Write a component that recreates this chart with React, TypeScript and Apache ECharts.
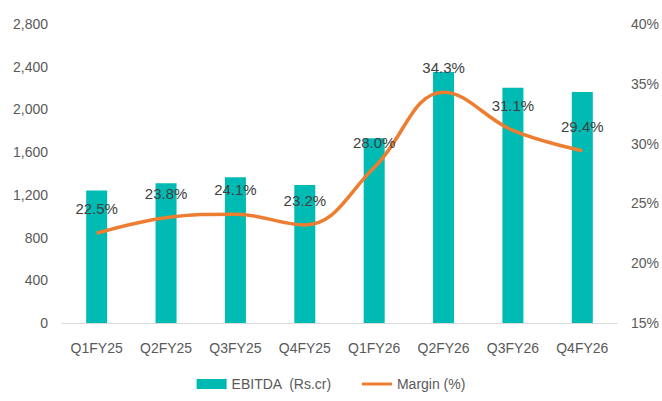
import React, { useEffect, useRef } from "react";
import * as echarts from "echarts";

const categories = ["Q1FY25", "Q2FY25", "Q3FY25", "Q4FY25", "Q1FY26", "Q2FY26", "Q3FY26", "Q4FY26"];
const ebitda = [1240, 1308, 1364, 1292, 1730, 2350, 2204, 2163];
const margin = [22.5, 23.8, 24.1, 23.2, 28.0, 34.3, 31.1, 29.4];

const FONT = "'Liberation Sans Narrow', 'Arial Narrow', 'Liberation Sans', sans-serif";

export default function App() {
  const ref = useRef<HTMLDivElement>(null);
  useEffect(() => {
    if (!ref.current) return;
    const chart = echarts.init(ref.current, undefined, { renderer: "svg" });
    chart.setOption({
      animation: false,
      textStyle: { fontFamily: FONT },
      grid: { left: 62, right: 44, top: 24, bottom: 78 },
      legend: {
        bottom: 5,
        left: "center",
        itemGap: 30,
        itemWidth: 30,
        itemHeight: 10,
        textStyle: { fontFamily: FONT, fontSize: 14, color: "#595959" },
        data: [
          { name: "EBITDA  (Rs.cr)", icon: "rect" },
          { name: "Margin (%)", icon: "path://M0,0 L30,0 L30,3 L0,3 Z" },
        ],
      },
      xAxis: {
        type: "category",
        data: categories,
        axisLine: { lineStyle: { color: "#d9d9d9", width: 1 } },
        axisTick: { show: false },
        axisLabel: { color: "#595959", fontSize: 14, fontFamily: FONT, margin: 18 },
      },
      yAxis: [
        {
          type: "value",
          min: 0,
          max: 2800,
          interval: 400,
          splitLine: { show: false },
          axisLine: { show: false },
          axisTick: { show: false },
          axisLabel: {
            color: "#595959",
            fontSize: 14,
            fontFamily: FONT,
            margin: 14,
            formatter: (v: number) => v.toLocaleString("en-US"),
          },
        },
        {
          type: "value",
          min: 15,
          max: 40,
          interval: 5,
          splitLine: { show: false },
          axisLine: { show: false },
          axisTick: { show: false },
          axisLabel: {
            color: "#595959",
            fontSize: 14,
            fontFamily: FONT,
            margin: 14,
            formatter: (v: number) => v + "%",
          },
        },
      ],
      series: [
        {
          name: "EBITDA  (Rs.cr)",
          type: "bar",
          data: ebitda,
          barWidth: 21,
          itemStyle: { color: "#00BAB4" },
        },
        {
          name: "Margin (%)",
          type: "line",
          yAxisIndex: 1,
          data: margin,
          smooth: 0.4,
          showSymbol: true,
          symbol: "circle",
          symbolSize: 0.1,
          lineStyle: { color: "#ED7D31", width: 3.5 },
          itemStyle: { color: "#ED7D31" },
          label: {
            show: true,
            position: "top",
            distance: 17,
            color: "#404040",
            fontSize: 15,
            fontFamily: FONT,
            formatter: (p: any) => p.value.toFixed(1) + "%",
          },
        },
      ],
    });
    return () => chart.dispose();
  }, []);
  return (
    <div
      ref={ref}
      style={{ position: "fixed", left: 0, top: 0, width: 662, height: 401, background: "#fff" }}
    />
  );
}
